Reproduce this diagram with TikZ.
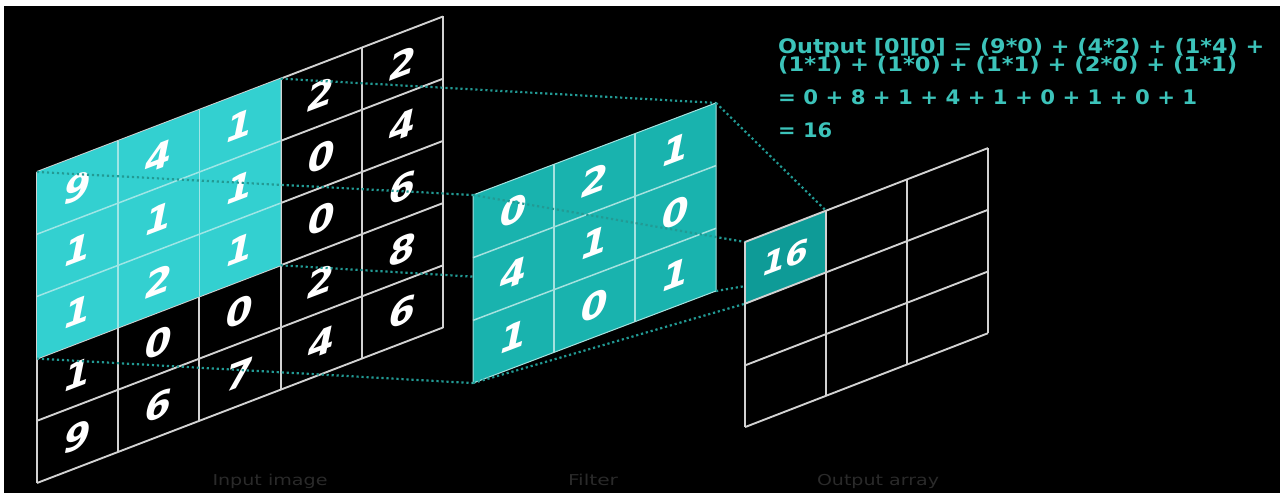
\documentclass[tikz,border=0pt]{standalone}
\usepackage{fontspec}
\usepackage{graphicx}
\setmainfont{DejaVu Sans}
\definecolor{incyan}{HTML}{33D0D0}
\definecolor{incyanline}{HTML}{9FE6E6}
\definecolor{filtcyan}{HTML}{19B3AE}
\definecolor{filtline}{HTML}{A6E2DF}
\definecolor{outteal}{HTML}{0E9B97}
\definecolor{dotteal}{HTML}{229A94}
\definecolor{formteal}{HTML}{3CC3BA}
\definecolor{gridgray}{HTML}{D2D2D2}
\definecolor{labelgray}{HTML}{2A2A2A}
\tikzset{
  gridline/.style={draw=gridgray, line width=1.9pt},
  cyanline/.style={draw=incyanline, line width=1.5pt},
  filtgrid/.style={draw=filtline, line width=1.5pt},
  digit/.style={text=white, inner sep=0pt, font=\fontsize{35}{35}\selectfont\bfseries,
    yslant=0.38, xscale=1.1, xslant=0.2},
  dotline/.style={draw=dotteal, line width=2.2pt, dash pattern=on 2.2pt off 2.8pt},
  formula/.style={text=formteal, inner sep=0pt, anchor=base west,
    font=\fontsize{20}{20}\selectfont\bfseries},
  caption/.style={text=labelgray, inner sep=0pt, anchor=base,
    font=\fontsize{15}{15}\selectfont}
}
\begin{document}
\begin{tikzpicture}[x=1pt,y=-1pt]
\useasboundingbox (0,0) rectangle (1280,495);
\fill[white] (0,0) rectangle (1280,495);
\fill[black] (4,6) rectangle (1280,493);

% ---------- input image ----------
\begin{scope}[shift={(37,172)}, x={(81.2pt,31.1pt)}, y={(0pt,-62.2pt)}]
  \foreach \i in {0,...,5} {
    \draw[gridline] (0,\i) -- (5,\i);
    \draw[gridline] (\i,0) -- (\i,5);
  }
  \fill[incyan] (0,0) -- (3,0) -- (3,3) -- (0,3) -- cycle;
  \foreach \i in {1,2} {
    \draw[cyanline] (0,\i) -- (3,\i);
    \draw[cyanline] (\i,0) -- (\i,3);
  }
  \coordinate (inA) at (0,0);
  \coordinate (inB) at (3,0);
  \coordinate (inC) at (3,3);
  \coordinate (inD) at (0,3);
  \foreach \row [count=\r from 0] in {{9,4,1,2,2},{1,1,1,0,4},{1,2,1,0,6},{1,0,0,2,8},{9,6,7,4,6}} {
    \foreach \v [count=\c from 0] in \row {
      \node[digit] (in-\r-\c) at (\c+0.5,\r+0.5) {\v};
    }
  }
\end{scope}

% connectors input -> filter (named corners)
\begin{scope}[shift={(473,195)}, x={(81pt,30.7pt)}, y={(0pt,-62.7pt)}]
  \coordinate (fA) at (0,0);
  \coordinate (fB) at (3,0);
  \coordinate (fC) at (3,3);
  \coordinate (fD) at (0,3);
\end{scope}
\draw[dotline] (inA) -- (fA);
\draw[dotline] (inB) -- (fB);
\draw[dotline] (inC) -- (fC);
\draw[dotline] (inD) -- (fD);

% ---------- filter ----------
\begin{scope}[shift={(473,195)}, x={(81pt,30.7pt)}, y={(0pt,-62.7pt)}]
  \fill[filtcyan] (0,0) -- (3,0) -- (3,3) -- (0,3) -- cycle;
  \foreach \i in {1,2} {
    \draw[filtgrid] (0,\i) -- (3,\i);
    \draw[filtgrid] (\i,0) -- (\i,3);
  }
  \draw[filtgrid, line width=1pt] (0,0) -- (3,0) -- (3,3) -- (0,3) -- cycle;
  \foreach \row [count=\r from 0] in {{0,2,1},{4,1,0},{1,0,1}} {
    \foreach \v [count=\c from 0] in \row {
      \node[digit] (f-\r-\c) at (\c+0.5,\r+0.5) {\v};
    }
  }
\end{scope}

% output corners
\begin{scope}[shift={(745,242)}, x={(81pt,31.3pt)}, y={(0pt,-61.7pt)}]
  \coordinate (oA) at (0,0);
  \coordinate (oB) at (1,0);
  \coordinate (oC) at (1,1);
  \coordinate (oD) at (0,1);
\end{scope}
\draw[dotline] (fA) -- (oA);
\draw[dotline] (fB) -- (oB);
\draw[dotline] (fC) -- (oC);
\draw[dotline] (fD) -- (oD);

% ---------- output array ----------
\begin{scope}[shift={(745,242)}, x={(81pt,31.3pt)}, y={(0pt,-61.7pt)}]
  \fill[outteal] (0,0) -- (1,0) -- (1,1) -- (0,1) -- cycle;
  \foreach \i in {0,...,3} {
    \draw[gridline] (0,\i) -- (3,\i);
    \draw[gridline] (\i,0) -- (\i,3);
  }
  \node[digit, font=\fontsize{30}{30}\selectfont\bfseries] (out-0-0) at (0.5,0.5) {16};
\end{scope}

% ---------- formula ----------
\node[formula] (f1) at (778,53.5) {\resizebox{486pt}{\height}{Output [0][0] = (9*0) + (4*2) + (1*4) +}};
\node[formula] (f2) at (778,72) {\resizebox{459pt}{\height}{(1*1) + (1*0) + (1*1) + (2*0) + (1*1)}};
\node[formula] (f3) at (778,104) {\resizebox{419pt}{\height}{= 0 + 8 + 1 + 4 + 1 + 0 + 1 + 0 + 1}};
\node[formula] (f4) at (778,137.5) {\resizebox{54pt}{\height}{= 16}};

% ---------- captions ----------
\node[caption] (capin) at (270,485) {\resizebox{115pt}{\height}{Input image}};
\node[caption] (capf) at (593,485) {\resizebox{50pt}{\height}{Filter}};
\node[caption] (capo) at (878,485) {\resizebox{122pt}{\height}{Output array}};
\end{tikzpicture}
\end{document}
